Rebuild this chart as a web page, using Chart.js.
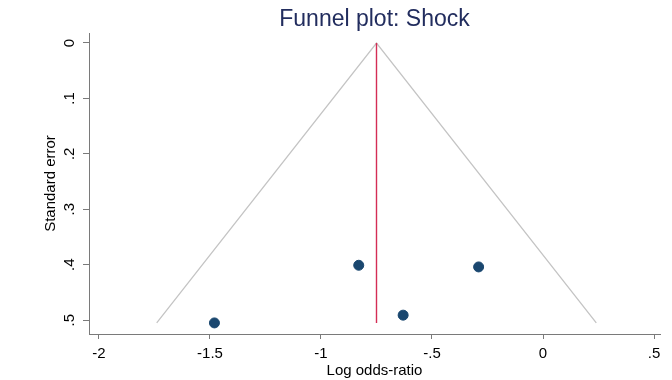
<!DOCTYPE html>
<html>
<head>
<meta charset="utf-8">
<script src="https://cdn.jsdelivr.net/npm/chart.js@4.4.0/dist/chart.umd.min.js"></script>
<style>
  html, body { margin: 0; padding: 0; background: #fff; }
  #wrap { width: 672px; height: 380px; }
</style>
</head>
<body>
<div id="wrap"><canvas id="funnelChart"></canvas></div>
<script>
// ---------------- data ----------------
const chartTitle = "Funnel plot: Shock";
const xTicks = [-2, -1.5, -1, -0.5, 0, 0.5];
const xTickLabels = ["-2", "-1.5", "-1", "-.5", "0", ".5"];
const yTicks = [0, 0.1, 0.2, 0.3, 0.4, 0.5];
const yTickLabels = ["0", ".1", ".2", ".3", ".4", ".5"];

// studies: log odds-ratio and standard error
const logOddsRatio = [-1.48, -0.83, -0.63, -0.29];
const standardError = [0.505, 0.401, 0.491, 0.404];

// pooled estimate and funnel limits
const pooledEstimate = -0.75;
const funnelSe = [0, 0.505];
const funnelLower = -1.74;
const funnelUpper = 0.24;

// ---------------- chart ----------------
const fontFamily = "'Liberation Sans', Arial, sans-serif";
Chart.defaults.font.family = fontFamily;
Chart.defaults.color = "#000";

const axisColor = "#7a7a7a";

// title centred over the plot region, like Stata does
const titlePlugin = {
  id: "plotTitle",
  afterDraw(chart) {
    const c = chart.ctx;
    const area = chart.chartArea;
    c.save();
    c.font = "23px " + fontFamily;
    c.fillStyle = "#222d5e";
    c.textAlign = "center";
    c.textBaseline = "alphabetic";
    c.fillText(chartTitle, (area.left + area.right) / 2, 26);
    c.restore();
  },
};

// y tick labels in Stata are turned 90 degrees
const yLabelPlugin = {
  id: "yLabels",
  afterDraw(chart) {
    const c = chart.ctx;
    const scale = chart.scales.y;
    c.save();
    c.font = "15px " + fontFamily;
    c.fillStyle = "#000";
    c.textAlign = "center";
    c.textBaseline = "middle";
    yTicks.forEach((v, i) => {
      const y = scale.getPixelForValue(v);
      c.save();
      c.translate(70, y);
      c.rotate(-Math.PI / 2);
      c.fillText(yTickLabels[i], 0, 0);
      c.restore();
    });
    c.restore();
  },
};

const points = logOddsRatio.map((x, i) => ({ x: x, y: standardError[i] }));

const ctx = document.getElementById("funnelChart").getContext("2d");
const funnelChart = new Chart(ctx, {
  type: "scatter",
  data: {
    datasets: [
      {
        label: "Studies",
        data: points,
        backgroundColor: "#1a476f",
        borderColor: "#1a476f",
        pointRadius: 5,
        pointHoverRadius: 5,
      },
      {
        label: "Pooled",
        data: [
          { x: pooledEstimate, y: funnelSe[0] },
          { x: pooledEstimate, y: funnelSe[1] },
        ],
        showLine: true,
        borderColor: "#d42d55",
        borderWidth: 1.4,
        pointRadius: 0,
      },
      {
        label: "Funnel",
        data: [
          { x: funnelLower, y: funnelSe[1] },
          { x: pooledEstimate, y: funnelSe[0] },
          { x: funnelUpper, y: funnelSe[1] },
        ],
        showLine: true,
        borderColor: "#c4c4c4",
        borderWidth: 1.3,
        pointRadius: 0,
      },
    ],
  },
  options: {
    responsive: true,
    maintainAspectRatio: false,
    animation: false,
    layout: { padding: { left: 0, right: 12, top: 33, bottom: 0 } },
    plugins: {
      legend: { display: false },
      tooltip: { enabled: false },
      title: { display: false },
    },
    scales: {
      x: {
        type: "linear",
        min: -2.045,
        max: 0.527,
        afterBuildTicks: (axis) => {
          axis.ticks = xTicks.map((v) => ({ value: v }));
        },
        afterFit: (axis) => {
          axis.height = 46;
        },
        ticks: {
          callback: (v, i) => xTickLabels[i],
          font: { size: 15 },
          color: "#000",
          padding: 6,
          maxRotation: 0,
        },
        grid: {
          drawOnChartArea: false,
          drawTicks: true,
          tickLength: 5,
          color: axisColor,
        },
        border: { display: true, color: axisColor, width: 1 },
        title: {
          display: true,
          text: "Log odds-ratio",
          font: { size: 15 },
          color: "#000",
          padding: { top: 0, bottom: 0 },
        },
      },
      y: {
        type: "linear",
        reverse: true,
        min: -0.018,
        max: 0.525,
        afterBuildTicks: (axis) => {
          axis.ticks = yTicks.map((v) => ({ value: v }));
        },
        afterFit: (axis) => {
          axis.width = 89;
        },
        ticks: {
          display: false,
        },
        grid: {
          drawOnChartArea: false,
          drawTicks: true,
          tickLength: 6,
          color: axisColor,
        },
        border: { display: true, color: axisColor, width: 1 },
        title: {
          display: true,
          text: "Standard error",
          font: { size: 15 },
          color: "#000",
          padding: { top: 42, bottom: 0 },
        },
      },
    },
  },
  plugins: [titlePlugin, yLabelPlugin],
});
</script>
</body>
</html>
